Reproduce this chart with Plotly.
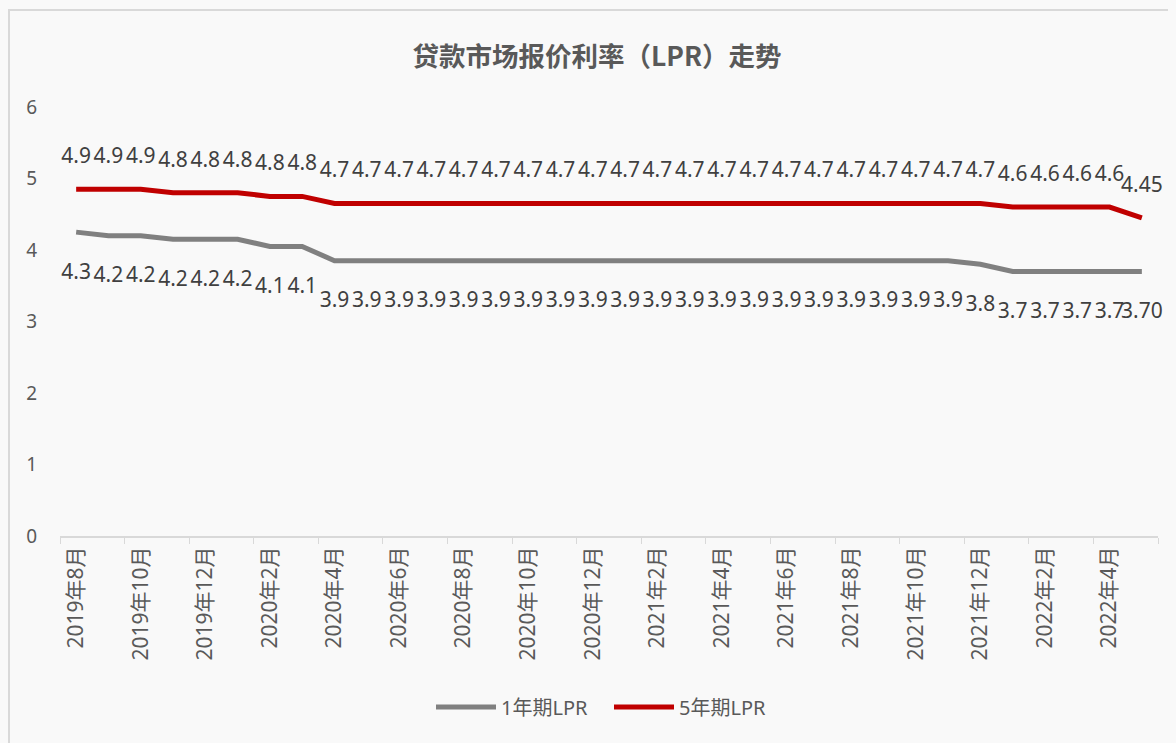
import plotly.graph_objects as go
from decimal import Decimal, ROUND_HALF_UP

months = []
for y, ms in [(2019, range(8, 13)), (2020, range(1, 13)), (2021, range(1, 13)), (2022, range(1, 6))]:
    for m in ms:
        months.append(f"{y}年{m}月")

lpr_1y = [4.25, 4.20, 4.20, 4.15, 4.15, 4.15, 4.05, 4.05,
          3.85, 3.85, 3.85, 3.85, 3.85, 3.85, 3.85, 3.85, 3.85,
          3.85, 3.85, 3.85, 3.85, 3.85, 3.85, 3.85, 3.85, 3.85, 3.85,
          3.85, 3.80, 3.70, 3.70, 3.70, 3.70, 3.70]
lpr_5y = [4.85, 4.85, 4.85, 4.80, 4.80, 4.80, 4.75, 4.75,
          4.65, 4.65, 4.65, 4.65, 4.65, 4.65, 4.65, 4.65, 4.65,
          4.65, 4.65, 4.65, 4.65, 4.65, 4.65, 4.65, 4.65, 4.65, 4.65,
          4.65, 4.65, 4.60, 4.60, 4.60, 4.60, 4.45]


def fmt(v, q):
    return str(Decimal(str(v)).quantize(Decimal(q), rounding=ROUND_HALF_UP))


label_1y = [fmt(v, "0.1") for v in lpr_1y[:-1]] + [fmt(lpr_1y[-1], "0.01")]
label_5y = [fmt(v, "0.1") for v in lpr_5y[:-1]] + [fmt(lpr_5y[-1], "0.01")]

FONT = "Noto Sans, Noto Sans CJK SC, sans-serif"
TFONT = "Noto Sans CJK SC, Noto Sans, sans-serif"
GRAY = "#808080"
RED = "#c00000"
TXT = "#404040"
AX = "#595959"
BG = "#f9f9f9"

W, H = 1168, 735
L, R, T, B = 52, 18, 99, 207
PW, PH = W - L - R, H - T - B

fig = go.Figure()
fig.add_trace(go.Scatter(x=months, y=lpr_1y, mode="lines", name="1年期LPR",
                         line=dict(color=GRAY, width=5)))
fig.add_trace(go.Scatter(x=months, y=lpr_5y, mode="lines", name="5年期LPR",
                         line=dict(color=RED, width=5)))
# data labels
fig.add_trace(go.Scatter(x=months, y=lpr_1y, mode="markers+text", text=label_1y,
                         textposition="bottom center", showlegend=False, hoverinfo="skip",
                         marker=dict(size=48, color="rgba(0,0,0,0)"),
                         textfont=dict(family=FONT, size=21, color=TXT), cliponaxis=False))
fig.add_trace(go.Scatter(x=months, y=lpr_5y, mode="markers+text", text=label_5y,
                         textposition="top center", showlegend=False, hoverinfo="skip",
                         marker=dict(size=32, color="rgba(0,0,0,0)"),
                         textfont=dict(family=FONT, size=21, color=TXT), cliponaxis=False))

fig.update_layout(
    width=W, height=H,
    paper_bgcolor=BG, plot_bgcolor=BG,
    margin=dict(l=L, r=R, t=T, b=B),
    font=dict(family=FONT, color=AX),
    title=dict(text="<b>贷款市场报价利率（LPR）走势</b>", x=(597 - 8) / W, xanchor="center",
               y=1 - 49 / H, yanchor="middle",
               font=dict(family=TFONT, size=26.5, color=AX)),
    legend=dict(orientation="h", x=(609 - 8) / W, xanchor="center", y=1 - 699 / H, yanchor="middle",
                yref="container", xref="container", font=dict(family=FONT, size=20, color=AX),
                bgcolor="rgba(0,0,0,0)", itemwidth=60, entrywidth=103, entrywidthmode="pixels"),
    showlegend=True,
)
fig.update_xaxes(type="category", tickson="boundaries", dtick=2, tickangle=-90,
                 showgrid=False, showline=True, linecolor="#d9d9d9", linewidth=2,
                 ticks="outside", ticklen=6, tickcolor="#d9d9d9", tickwidth=1,
                 tickfont=dict(family=FONT, size=21, color=AX),
                 range=[-0.5, len(months) - 0.5])
fig.update_yaxes(range=[0, 6], dtick=1, showgrid=False, zeroline=False, showline=False,
                 tickfont=dict(family=FONT, size=19, color=AX), ticklabelstandoff=22)

fig.add_shape(type="rect", xref="paper", yref="paper",
              x0=(1 - L) / PW, x1=1.2, y0=-0.6, y1=1 + (T - 2) / PH,
              line=dict(color="#d9d9d9", width=2), fillcolor="rgba(0,0,0,0)", layer="below")

fig.write_html("out.html", post_script="document.body.style.background='%s';" % BG)
